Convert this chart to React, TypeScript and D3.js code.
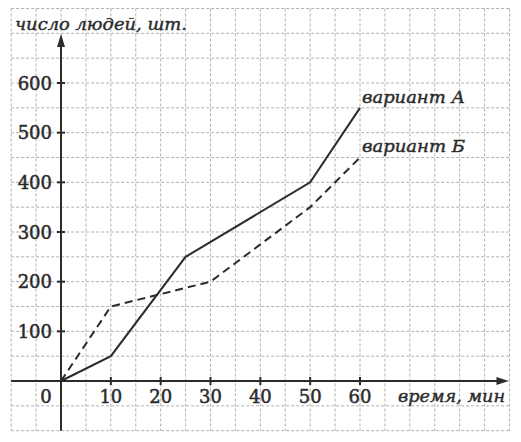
import React from "react";
import * as d3 from "d3";

const timeA = [0, 10, 25, 50, 60];
const peopleA = [0, 50, 250, 400, 550];
const timeB = [0, 10, 20, 30, 50, 60];
const peopleB = [0, 150, 175, 200, 350, 450];
const xTicks = [10, 20, 30, 40, 50, 60];
const yTicks = [100, 200, 300, 400, 500, 600];
const labelA = "вариант А";
const labelB = "вариант Б";
const xTitle = "время, мин";
const yTitle = "число людей, шт.";

const W = 521;
const H = 442;

export default function App() {
  const x = d3.scaleLinear().domain([0, 60]).range([61, 360]);
  const y = d3.scaleLinear().domain([0, 600]).range([381, 83]);
  const gridX = d3.range(-10, 91, 5);
  const gridY = d3.range(-100, 751, 50);
  const line = d3
    .line<[number, number]>()
    .x((d) => x(d[0]))
    .y((d) => y(d[1]));
  const dataA: [number, number][] = timeA.map((t, i) => [t, peopleA[i]]);
  const dataB: [number, number][] = timeB.map((t, i) => [t, peopleB[i]]);
  const x0 = x(-10), x1 = x(90), y0 = y(-100), y1 = y(750);
  const numFont = "'DejaVu Serif', serif";
  const itFont = "'DejaVu Serif', serif";
  return (
    <svg
      width={W}
      height={H}
      style={{ position: "absolute", left: 0, top: 0, background: "#fff" }}
    >
      <rect x={0} y={0} width={W} height={H} fill="#fff" />
      <g stroke="#a8a8a8" strokeWidth={0.9} strokeDasharray="3 2">
        {gridX.map((v) => (
          <line key={"gx" + v} x1={x(v)} x2={x(v)} y1={y1} y2={y0} />
        ))}
        {gridY.map((v) => (
          <line key={"gy" + v} x1={x0} x2={x1} y1={y(v)} y2={y(v)} />
        ))}
      </g>
      {/* axes */}
      <g stroke="#2b2b2b" strokeWidth={2}>
        <line x1={x0} x2={x1 - 8} y1={y(0)} y2={y(0)} />
        <line x1={x(0)} x2={x(0)} y1={y0} y2={44} />
        {xTicks.map((v) => (
          <line key={"xt" + v} x1={x(v)} x2={x(v)} y1={y(0) - 4} y2={y(0) + 4} />
        ))}
        {yTicks.map((v) => (
          <line key={"yt" + v} x1={x(0) - 4} x2={x(0) + 4} y1={y(v)} y2={y(v)} />
        ))}
      </g>
      <path
        d={`M${x1 - 1},${y(0)} L${x1 - 13},${y(0) - 4} L${x1 - 13},${y(0) + 4} Z`}
        fill="#2b2b2b"
      />
      <path
        d={`M${x(0)},34 L${x(0) - 4},47 L${x(0) + 4},47 Z`}
        fill="#2b2b2b"
      />
      {/* series */}
      <path d={line(dataA) || ""} fill="none" stroke="#2b2b2b" strokeWidth={2} />
      <path
        d={line(dataB) || ""}
        fill="none"
        stroke="#2b2b2b"
        strokeWidth={2}
        strokeDasharray="8 5"
      />
      {/* tick labels */}
      <g fontFamily={numFont} fontSize={18} fill="#2b2b2b" stroke="#2b2b2b" strokeWidth={0.5}>
        {yTicks.map((v) => (
          <text key={"yl" + v} x={52} y={y(v) + 6.5} textAnchor="end">
            {v}
          </text>
        ))}
        {xTicks.map((v) => (
          <text key={"xl" + v} x={x(v)} y={403} textAnchor="middle">
            {v}
          </text>
        ))}
        <text x={46} y={403} textAnchor="middle">
          0
        </text>
      </g>
      <g fontFamily={itFont} fontStyle="italic" fontSize={16} fill="#2b2b2b" stroke="#2b2b2b" strokeWidth={0.4}>
        <text x={15} y={30} textLength={172} lengthAdjust="spacingAndGlyphs">{yTitle}</text>
        <text x={362} y={103} textLength={103} lengthAdjust="spacingAndGlyphs">{labelA}</text>
        <text x={362} y={152} textLength={103} lengthAdjust="spacingAndGlyphs">{labelB}</text>
        <text x={398} y={402} textLength={107} lengthAdjust="spacingAndGlyphs">{xTitle}</text>
      </g>
    </svg>
  );
}
